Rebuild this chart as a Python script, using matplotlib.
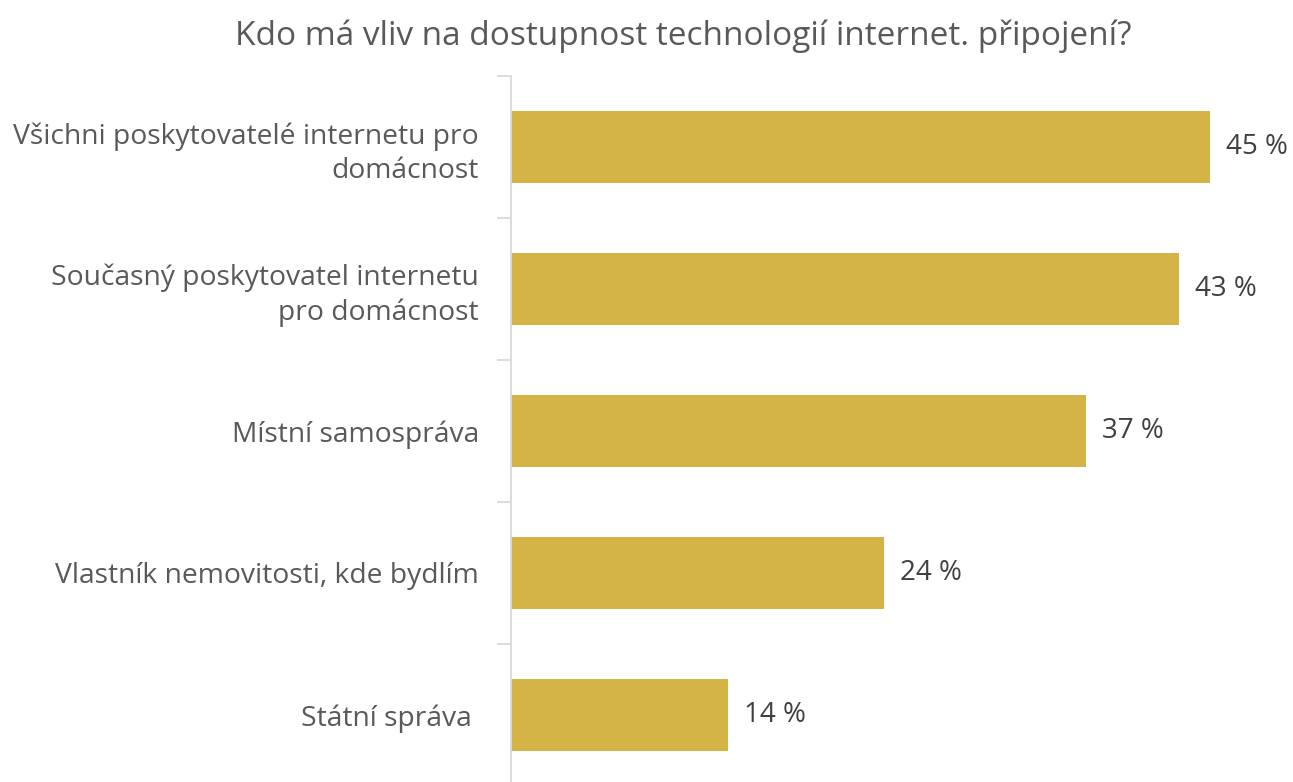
import matplotlib.pyplot as plt

plt.rcParams['font.family'] = ['Open Sans', 'DejaVu Sans']

categories = [
    "Všichni poskytovatelé internetu pro\ndomácnost",
    "Současný poskytovatel internetu\npro domácnost",
    "Místní samospráva",
    "Vlastník nemovitosti, kde bydlím",
    "Státní správa ",
]
values = [45, 43, 37, 24, 14]
title = "Kdo má vliv na dostupnost technologií internet. připojení?"

W, H = 1293, 782
fig = plt.figure(figsize=(W / 100, H / 100), dpi=100)
# axes placed in pixel terms: left edge 511, top 76, 142 px per category
ax = fig.add_axes([511 / W, (H - 786) / H, 776.5 / W, 710 / H])

ypos = list(range(len(categories)))
ax.barh(ypos, values, height=0.507, color='#D4B347')
ax.set_ylim(len(categories) - 0.5, -0.5)
ax.set_xlim(0, 50)

for y, v in zip(ypos, values):
    ax.text(v + 1.03, y, f"{v} %", va='center', ha='left', fontsize=20, color='#404040')

ax.set_yticks(ypos)
ax.set_yticklabels(categories, fontsize=20.3, color='#595959', ha='right',
                   linespacing=1.3)
ax.set_yticks([i - 0.5 for i in range(len(categories) + 1)], minor=True)
ax.tick_params(axis='y', which='major', length=0, pad=23)
ax.tick_params(axis='y', which='minor', length=10, color='#D9D9D9', width=1.3)
ax.set_xticks([])

for s in ['top', 'right', 'bottom']:
    ax.spines[s].set_visible(False)
ax.spines['left'].set_color('#D9D9D9')
ax.spines['left'].set_linewidth(1.3)

fig.text(683 / W, 1 - 36 / H, title, ha='center', va='center', fontsize=24, color='#595959')

fig.savefig('out.png', dpi=100)
